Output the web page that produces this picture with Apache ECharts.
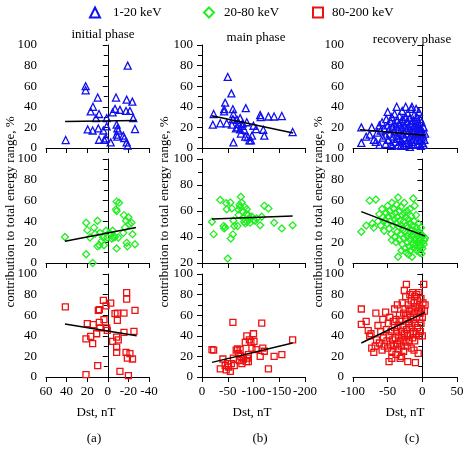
<!DOCTYPE html>
<html>
<head>
<meta charset="utf-8">
<script src="https://cdn.jsdelivr.net/npm/echarts@6/dist/echarts.min.js"></script>
<style>
  html, body { margin: 0; background: #fff; }
  #chart { width: 467px; height: 450px; }
</style>
</head>
<body>
<div id="chart"></div>
<script>
// energy bands (rows) and storm phases (columns)
var bands = ['1-20 keV', '20-80 keV', '80-200 keV'];
var phases = ['initial phase', 'main phase', 'recovery phase'];
var panelLetters = ['(a)', '(b)', '(c)'];

// x axis (Dst, nT) per phase
var dstMin = [-40, -200, -100];
var dstMax = [60, 0, 50];
var dstStep = [20, 50, 50];
var dstInverse = [true, true, false];

// y axis per band/phase ([row][col])
var yMin = [[0, 0, 0], [0, 20, 0], [0, 0, 0]];

// 1-20 keV
var lowInit = [[40.9,7.7],[21.5,60],[21.5,56],[19.5,18],[14.7,17],[16.6,35.5],[14.4,40],[11.5,29],[9.8,49],[9.2,19],[8.5,33],[8.5,8],[4.3,17],[3.4,8],[1.7,9.4],[1.1,21],[1.1,29],[-2.8,5.5],[-4.7,34.5],[-7,38],[-8,49],[-8.6,22.6],[-8.6,13],[-9.3,19],[-10.2,17],[-9.3,11],[-11.8,37],[-15,12],[-16,9.7],[-17.7,36],[-18.3,47],[-19.3,80],[-18.3,5.5],[-19.3,2.3],[-21.5,36],[-23.8,45],[-24.7,29],[-26.4,18.4]];
var lowMain = [[-21,22.6],[-22.6,33],[-35.5,24],[-43,35.5],[-43,37.7],[-45,44],[-48,24],[-50,69],[-57,53],[-60,37.7],[-61,33],[-60,28],[-61,5.5],[-58,22.6],[-68,27.4],[-69,20],[-71.6,23.5],[-74,18],[-75.5,14],[-78,21.6],[-79,24],[-82,17.7],[-84,11],[-85,38.7],[-87,25],[-89,10.6],[-92,7.4],[-95,7.4],[-97,12],[-100,21.6],[-105,18.4],[-113,32],[-114,30],[-119,17.7],[-121,12],[-129,30.6],[-140,30.6],[-155,31],[-176,15.5],[-74,29],[-66,19]];
var lowRec = [[-88,5],[-88,20],[-81,11],[-76,13],[-73,20],[-70,8],[-67,6],[-65,15],[-62,22],[-60,17],[-58,25],[-57,10],[-55,19],[-53,12],[-52,28],[-50,35],[-50,22],[-49,8],[-48,18],[-47,14],[-46,26],[-45,4],[-44,30],[-43,20],[-42,11],[-41,24],[-40,16],[-40,33],[-39,6],[-38,21],[-37,40],[-37,12],[-36,27],[-35,18],[-35,3],[-34,23],[-33,9],[-33,31],[-32,15],[-31,25],[-30,20],[-30,7],[-29,36],[-28,13],[-28,28],[-27,17],[-26,2],[-26,22],[-25,10],[-24,40],[-24,30],[-23,19],[-23,5],[-22,26],[-21,14],[-21,34],[-20,8],[-20,21],[-19,17],[-18,29],[-18,1],[-17,12],[-16,24],[-16,38],[-15,40],[-15,6],[-14,19],[-14,15],[-13,27],[-13,10],[-12,32],[-12,3],[-11,22],[-11,17],[-10,13],[-10,26],[-9,38],[-9,8],[-8,20],[-8,30],[-7,15],[-7,4],[-6,24],[-6,11],[-5,18],[-5,35],[-4,7],[-4,22],[-3,14],[-3,28],[-2,2],[-2,19],[-1,10],[-1,25],[0,16],[0,5],[1,12],[2,20],[2,3],[3,8],[4,14],[-44,2],[-36,9],[-27,3],[-19,4],[-31,2],[-53,4],[-62,3]];

// 20-80 keV
var midInit = [[41.6,25],[21,38.7],[21,8.4],[19.9,31.6],[17.3,24.5],[14.7,0],[13.4,34],[12.4,28],[10,40.6],[10,16],[8.2,17],[7.6,29],[6,21],[4.3,24.5],[3.7,17],[1.7,31],[0.5,24.5],[-1.5,29],[-3.8,23.5],[-4.7,31],[-5.4,24.5],[-7,25],[-8,51.6],[-8.6,50],[-8.6,59],[-10.2,24.5],[-8.6,14],[-11,58],[-15,29],[-15.7,46],[-17.7,40.6],[-18.3,19.4],[-19,16],[-20,44],[-20.9,37.4],[-23,38.7],[-24,27.7],[-26.4,18],[-16.7,34]];
var midMain = [[-19.4,51.7],[-22.6,42.2],[-35.5,68.5],[-42,48.4],[-43,46.6],[-45,47.4],[-47,66],[-48,61.3],[-50,23.4],[-55,66.5],[-56,38.8],[-58,62],[-60,42],[-61,52.5],[-62.6,48.4],[-69,48.4],[-71,57],[-73,64.6],[-74,63],[-75.5,71],[-77,66.5],[-79,59.5],[-80.6,54.3],[-82,51.7],[-84,50.5],[-86,57.7],[-87,61.3],[-88,51.7],[-90,57],[-92,54.3],[-93.5,51],[-97,55.6],[-100,53],[-103,52.5],[-106,54.3],[-113,49],[-116,55.6],[-121,64],[-129,62],[-140,51],[-155,46.6],[-176,49],[-71,61],[-83,63]];
var midRec = [[-88,30],[-81,36],[-76,60],[-72,38],[-70,34],[-67,61],[-64,40],[-62,47],[-60,36],[-58,52],[-57,44],[-55,31],[-54,41],[-52,48],[-51,38],[-50,55],[-49,45],[-48,33],[-47,50],[-46,40],[-45,28],[-44,58],[-43,46],[-42,36],[-41,52],[-40,42],[-40,25],[-39,48],[-38,38],[-37,56],[-36,30],[-36,44],[-35,63],[-35,6],[-34,35],[-33,50],[-33,22],[-32,41],[-31,28],[-31,54],[-30,36],[-29,18],[-29,46],[-28,32],[-27,40],[-27,24],[-26,58],[-25,30],[-25,14],[-24,44],[-23,36],[-23,10],[-22,26],[-22,50],[-21,20],[-21,34],[-20,42],[-19,16],[-19,28],[-18,38],[-18,52],[-17,22],[-17,12],[-16,32],[-16,45],[-15,6],[-15,26],[-14,18],[-14,36],[-13,62],[-13,28],[-12,14],[-12,40],[-11,22],[-11,55],[-10,30],[-10,17],[-9,24],[-9,46],[-8,12],[-8,34],[-7,20],[-7,27],[-6,38],[-6,15],[-5,24],[-5,30],[-4,18],[-4,10],[-3,28],[-3,22],[-2,16],[-2,34],[-1,9],[-1,25],[0,20],[0,14],[1,26],[2,18],[3,22],[4,24],[-44,22],[-38,20],[-30,12],[-20,8],[-26,48]];

// 80-200 keV
var highInit = [[41.2,68],[21.2,2.3],[21.2,37],[19.9,51.8],[16.6,39.5],[14.7,32.4],[14,50.8],[10.8,42],[9.8,11],[9.2,64.7],[8.2,65.4],[8.2,53],[7.6,47.6],[4.3,74.4],[3.7,55.7],[1.7,69],[1.1,47.6],[0.5,45.3],[-2.8,71.8],[-4.7,34.6],[-7,61.5],[-8.6,38.8],[-8.6,29],[-8.6,24],[-9.3,55],[-9.3,62],[-10.2,36],[-11.8,5.5],[-15.7,62],[-15.7,43.4],[-17.7,24],[-18.3,82],[-18.3,75.7],[-19,18.4],[-20,1.3],[-21.5,22.6],[-24,17.5],[-25.4,44.3],[-26.4,64.7]];
var highMain = [[-19.4,26.5],[-22.6,26],[-35.5,7.8],[-40.6,17.5],[-45,11],[-47,7],[-49.7,13],[-51.6,9.7],[-55,5.5],[-57,13],[-60,53],[-61,18.4],[-62.6,11],[-66.4,26],[-69,27.2],[-71,22.6],[-73,16],[-74,26.5],[-75.5,20],[-77.4,13],[-80.6,17.5],[-84,33.7],[-86,15],[-87,40],[-88,18.4],[-90,15],[-92,36],[-95,33.7],[-97,28],[-100,42],[-101,34.6],[-105,26.5],[-113,20],[-116,52.4],[-118,28],[-121,25],[-129,7.8],[-140,20],[-155,21.7],[-176,36],[-90,21.7]];
var highRec = [[-88,66],[-88,51],[-81,54],[-78,45],[-76,40],[-74,42],[-73,28],[-70,24],[-68,30],[-67,62],[-66,36],[-64,50],[-62,33],[-60,44],[-58,26],[-57,56],[-56,38],[-55,30],[-53,63],[-52,46],[-51,35],[-50,28],[-49,52],[-48,15],[-48,40],[-47,58],[-46,32],[-45,44],[-44,25],[-43,36],[-42,54],[-41,30],[-40,48],[-40,66],[-39,38],[-38,22],[-38,56],[-37,44],[-36,32],[-36,70],[-35,50],[-34,27],[-34,40],[-33,60],[-32,35],[-32,18],[-31,54],[-30,44],[-30,30],[-29,72],[-28,38],[-28,50],[-27,62],[-27,25],[-26,42],[-25,34],[-25,66],[-24,56],[-24,78],[-23,46],[-23,90],[-22,30],[-22,60],[-21,15],[-21,40],[-20,52],[-20,70],[-19,35],[-19,64],[-18,48],[-18,80],[-17,42],[-17,58],[-16,28],[-16,74],[-15,50],[-15,66],[-14,38],[-14,82],[-13,56],[-13,44],[-12,72],[-12,62],[-11,35],[-11,78],[-10,14],[-10,52],[-9,68],[-9,42],[-8,80],[-8,58],[-7,48],[-7,74],[-6,23],[-6,64],[-5,40],[-5,82],[-4,56],[-4,70],[-3,62],[-3,44],[-2,76],[-2,52],[-1,66],[0,40],[0,58],[1,72],[2,90],[3,64],[4,70],[-30,20],[-44,18],[-12,26],[-26,84]];

// linear fits (end points)
var lowFits = [[[41.5,25.8],[-28,26.8]], [[-19,31.3],[-177,14.5]], [[-90,17.7],[4,12.3]]];
var midFits = [[[41.6,21],[-27.4,34.2]], [[-19.4,53.8],[-176,56.1]], [[-88,49.4],[4,25.8]]];
var highFits = [[[41.6,51.5],[-28,40]], [[-19.4,14.2],[-176,33]], [[-88,33],[4,62.8]]];

var points = [[lowInit, lowMain, lowRec], [midInit, midMain, midRec], [highInit, highMain, highRec]];
var fits = [lowFits, midFits, highFits];

var symbols = ['triangle', 'diamond', 'rect'];
var symbolSizes = [7, 7, 6];
var colors = ['#1010ee', '#22ee22', '#ee1111'];

var font = 'Liberation Serif';
var cols = [{ left: 46, width: 103 }, { left: 202, width: 103 }, { left: 353, width: 104 }];
var rows = [{ top: 45, height: 103 }, { top: 159, height: 104 }, { top: 274, height: 103 }];

var grids = [], xAxes = [], yAxes = [], series = [];
for (var r = 0; r < 3; r++) {
  for (var c = 0; c < 3; c++) {
    var g = grids.length;
    grids.push({ left: cols[c].left, width: cols[c].width, top: rows[r].top, height: rows[r].height });
    xAxes.push({
      type: 'value', gridIndex: g,
      min: dstMin[c], max: dstMax[c], interval: dstStep[c], inverse: dstInverse[c],
      axisLine: { lineStyle: { color: '#000', width: 1 } },
      axisTick: { length: 5, lineStyle: { color: '#000' } },
      axisLabel: { show: r === 2, color: '#000', fontFamily: font, fontSize: 13, margin: 8 },
      splitLine: { show: false }
    });
    yAxes.push({
      type: 'value', gridIndex: g,
      min: yMin[r][c], max: 100, interval: 20,
      axisLine: { show: true, lineStyle: { color: '#000', width: 1 } },
      axisTick: { show: true, length: 5, lineStyle: { color: '#000' } },
      minorTick: { show: true, splitNumber: 2, length: 4, lineStyle: { color: '#000' } },
      axisLabel: { color: '#000', fontFamily: font, fontSize: 13, margin: 9 },
      splitLine: { show: false }
    });
    series.push({
      name: bands[r], type: 'scatter', xAxisIndex: g, yAxisIndex: g,
      symbol: symbols[r], symbolSize: symbolSizes[r],
      itemStyle: { color: 'rgba(0,0,0,0)', borderColor: colors[r], borderWidth: 1.3, opacity: 1 },
      data: points[r][c]
    });
    series.push({
      name: 'fit', type: 'line', xAxisIndex: g, yAxisIndex: g,
      symbol: 'none', silent: true, z: 5,
      lineStyle: { color: '#000', width: 1.5 },
      data: fits[r][c]
    });
  }
}

var legendLefts = [89, 203, 312];
var legendTextPad = [8, 5, 4];
var legends = bands.map(function (b, i) {
  return {
    data: [b], left: legendLefts[i], top: 6, padding: 0,
    itemWidth: 10, itemHeight: 10, itemGap: 0,
    itemStyle: { borderWidth: 2 },
    textStyle: { fontFamily: font, fontSize: 13, color: '#000', padding: [0, 0, 0, legendTextPad[i]] }
  };
});

var graphics = [];
var titlePos = [[103, 35], [256, 38], [412, 40]];
var dstX = [96, 252, 405];
var letterX = [94, 260, 412];
var yNameX = [11, 165, 319];
for (var i = 0; i < 3; i++) {
  graphics.push({ type: 'text', x: titlePos[i][0], y: titlePos[i][1],
    style: { text: phases[i], fill: '#000', font: '13px "' + font + '"', align: 'center', verticalAlign: 'middle' } });
  graphics.push({ type: 'text', x: dstX[i], y: 413,
    style: { text: 'Dst, nT', fill: '#000', font: '13px "' + font + '"', align: 'center', verticalAlign: 'middle' } });
  graphics.push({ type: 'text', x: letterX[i], y: 439,
    style: { text: panelLetters[i], fill: '#000', font: '13px "' + font + '"', align: 'center', verticalAlign: 'middle' } });
  graphics.push({ type: 'text', x: yNameX[i], y: 212, rotation: Math.PI / 2,
    style: { text: 'contribution to total energy range, %', fill: '#000', font: '13px "' + font + '"', align: 'center', verticalAlign: 'middle' } });
}

var chart = echarts.init(document.getElementById('chart'));
chart.setOption({
  animation: false,
  backgroundColor: '#fff',
  legend: legends,
  grid: grids,
  xAxis: xAxes,
  yAxis: yAxes,
  series: series,
  graphic: graphics
});
</script>
</body>
</html>
